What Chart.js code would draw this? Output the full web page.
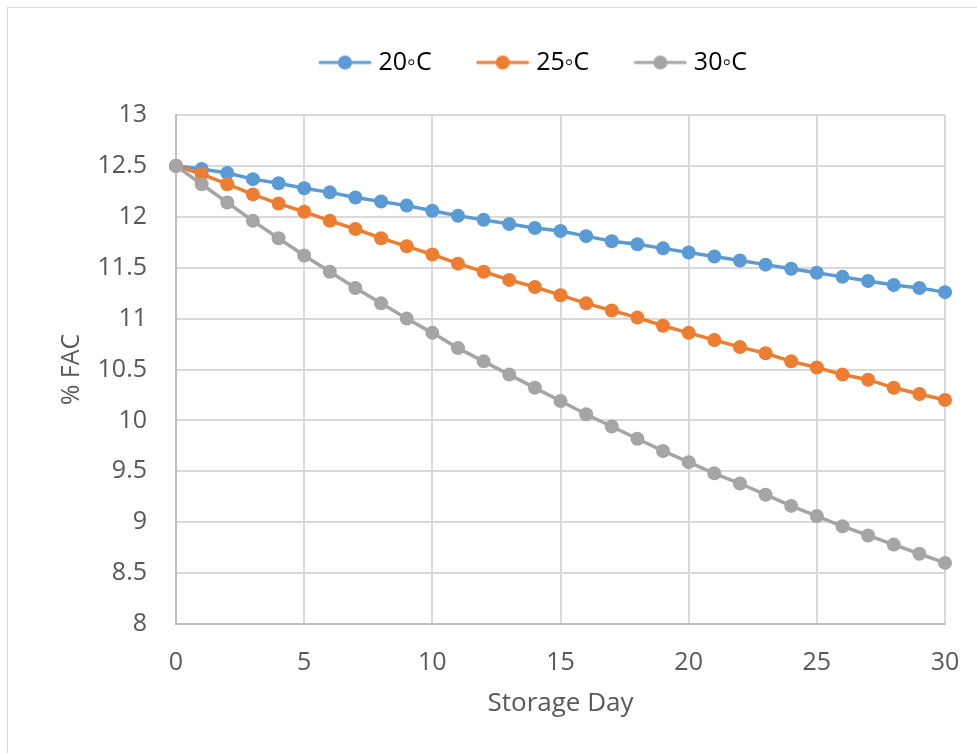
<!DOCTYPE html>
<html>
<head>
<meta charset="utf-8">
<script src="https://cdn.jsdelivr.net/npm/chart.js@4.4.0/dist/chart.umd.min.js"></script>
<style>
  body { margin: 0; background: #fff; }
  .frame { position: absolute; left: 7px; top: 7px; width: 990px; height: 770px; border: 1px solid #d9d9d9; }
  canvas { position: absolute; left: 0; top: 0; }
</style>
</head>
<body>
<div class="frame"></div>
<canvas id="myChart" width="977" height="753"></canvas>
<script>
// Storage days and % FAC per temperature
const days = [0, 1, 2, 3, 4, 5, 6, 7, 8, 9, 10, 11, 12, 13, 14, 15, 16, 17, 18, 19, 20, 21, 22, 23, 24, 25, 26, 27, 28, 29, 30];
const fac20 = [12.50, 12.47, 12.43, 12.37, 12.33, 12.28, 12.24, 12.19, 12.15, 12.11, 12.06, 12.01, 11.97, 11.93, 11.89, 11.86, 11.81, 11.76, 11.73, 11.69, 11.65, 11.61, 11.57, 11.53, 11.49, 11.45, 11.41, 11.37, 11.33, 11.30, 11.26];
const fac25 = [12.50, 12.42, 12.32, 12.22, 12.13, 12.05, 11.96, 11.88, 11.79, 11.71, 11.63, 11.54, 11.46, 11.38, 11.31, 11.23, 11.15, 11.08, 11.01, 10.93, 10.86, 10.79, 10.72, 10.66, 10.58, 10.52, 10.45, 10.40, 10.32, 10.26, 10.20];
const fac30 = [12.50, 12.32, 12.14, 11.96, 11.79, 11.62, 11.46, 11.30, 11.15, 11.00, 10.86, 10.71, 10.58, 10.45, 10.32, 10.19, 10.06, 9.94, 9.82, 9.70, 9.59, 9.48, 9.38, 9.27, 9.16, 9.06, 8.96, 8.87, 8.78, 8.69, 8.60];
const seriesNames = ['20\u25E6C', '25\u25E6C', '30\u25E6C'];
const xTicks = [0, 5, 10, 15, 20, 25, 30];
const yTicks = [8, 8.5, 9, 9.5, 10, 10.5, 11, 11.5, 12, 12.5, 13];

const colors = ['#5b9bd5', '#ed7d31', '#a5a5a5'];
const textColor = '#595959';

Chart.defaults.font.family = "'Open Sans', sans-serif";
Chart.defaults.color = textColor;

// little line + dot image for the legend
function legendMarker(color)
{
  const c = document.createElement('canvas');
  c.width = 54;
  c.height = 16;
  const ctx = c.getContext('2d');
  ctx.strokeStyle = color;
  ctx.lineWidth = 3;
  ctx.lineCap = 'round';
  ctx.beginPath();
  ctx.moveTo(2, 8);
  ctx.lineTo(52, 8);
  ctx.stroke();
  ctx.fillStyle = color;
  ctx.beginPath();
  ctx.arc(27, 8, 7, 0, Math.PI * 2);
  ctx.fill();
  return c;
}

function makeSeries(values, i)
{
  return {
    label: seriesNames[i],
    data: days.map((d, k) => ({ x: d, y: values[k] })),
    borderColor: colors[i],
    backgroundColor: colors[i],
    borderWidth: 3.5,
    pointRadius: 7,
    pointBorderWidth: 0,
    pointHoverRadius: 7,
    tension: 0,
    clip: false,
    order: 3 - i
  };
}

// extra room under the legend and move it over like the original
const legendSpacing = {
  id: 'legendSpacing',
  beforeInit(chart) {
    const origFit = chart.legend.fit;
    chart.legend.fit = function fit() {
      origFit.bind(chart.legend)();
      this.height += 30;
    };
  },
  afterLayout(chart) {
    chart.legend.left += 38;
    chart.legend.right += 38;
  }
};

const config = {
  type: 'line',
  data: {
    datasets: [makeSeries(fac20, 0), makeSeries(fac25, 1), makeSeries(fac30, 2)]
  },
  options: {
    responsive: false,
    animation: false,
    layout: { padding: { top: 0, left: 50, right: 32, bottom: 30 } },
    plugins: {
      tooltip: { enabled: false },
      legend: {
        position: 'top',
        labels: {
          usePointStyle: true,
          pointStyleWidth: 42,
          padding: 50,
          color: textColor,
          font: { size: 25 },
          generateLabels: (chart) => chart.data.datasets.map((ds, i) => ({
            text: ds.label,
            pointStyle: legendMarker(colors[i]),
            fillStyle: colors[i],
            strokeStyle: colors[i],
            lineWidth: 0,
            hidden: false,
            datasetIndex: i
          }))
        }
      }
    },
    scales: {
      x: {
        type: 'linear',
        min: 0,
        max: 30,
        afterBuildTicks: (axis) => { axis.ticks = xTicks.map(v => ({ value: v })); },
        afterFit: (axis) => {
          axis.height = 99;
          axis.paddingLeft = 0;
          axis.paddingRight = 0;
        },
        grid: { color: '#d9d9d9', lineWidth: 2, drawTicks: false },
        border: { color: '#bfbfbf', width: 2 },
        ticks: { padding: 24, color: textColor, font: { size: 25 }, callback: v => String(v) },
        title: { display: true, text: 'Storage Day', color: textColor, font: { size: 26 }, padding: { top: 4, bottom: 4 } }
      },
      y: {
        min: 8,
        max: 13,
        afterBuildTicks: (axis) => { axis.ticks = yTicks.map(v => ({ value: v })); },
        afterFit: (axis) => { axis.width = 126; },
        grid: { color: '#d9d9d9', lineWidth: 2, drawTicks: false },
        border: { color: '#bfbfbf', width: 2 },
        ticks: { padding: 29, color: textColor, font: { size: 25 }, callback: v => String(v) },
        title: { display: true, text: '% FAC', color: textColor, font: { size: 25 }, padding: { top: 7, bottom: 0 } }
      }
    }
  },
  plugins: [legendSpacing]
};

const facChart = new Chart(document.getElementById('myChart'), config);
</script>
</body>
</html>
